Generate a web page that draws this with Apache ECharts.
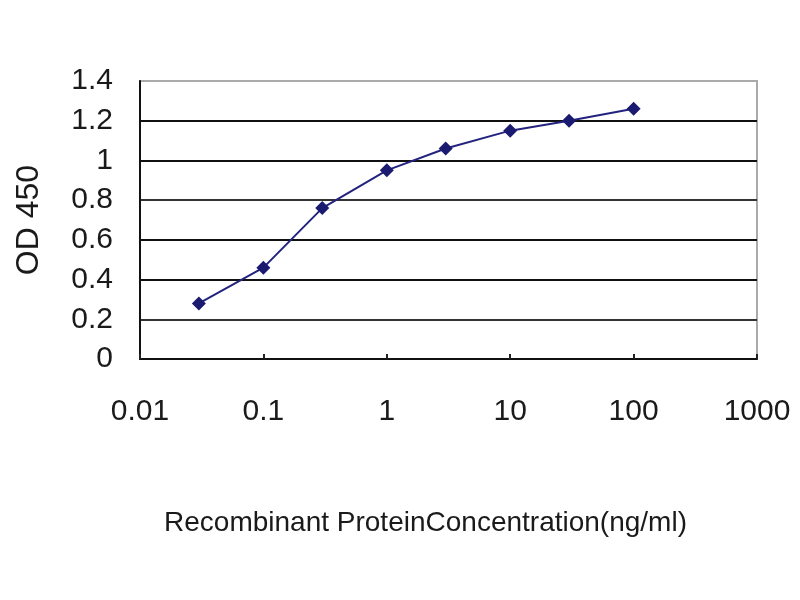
<!DOCTYPE html>
<html>
<head>
<meta charset="utf-8">
<script src="https://cdn.jsdelivr.net/npm/echarts@6/dist/echarts.min.js"></script>
<style>html,body{margin:0;padding:0;background:#fff;}#c{width:800px;height:600px;}</style>
</head>
<body>
<div id="c"></div>
<script>
var concentrations = [0.03, 0.1, 0.3, 1, 3, 10, 30, 100];
var od450 = [0.28, 0.46, 0.76, 0.95, 1.06, 1.15, 1.20, 1.26];
var xTicks = [0.01, 0.1, 1, 10, 100, 1000];
var xTickLabels = ['0.01', '0.1', '1', '10', '100', '1000'];
var yTicks = [0, 0.2, 0.4, 0.6, 0.8, 1, 1.2, 1.4];

var FONT = "'Liberation Sans', Arial, sans-serif";
var chart = echarts.init(document.getElementById('c'));
chart.setOption({
  animation: false,
  backgroundColor: '#fff',
  grid: {left: 140, right: 43, top: 81, bottom: 241, show: true, borderColor: '#aaa', borderWidth: 2},
  xAxis: {
    type: 'log', logBase: 10, min: xTicks[0], max: xTicks[xTicks.length - 1],
    name: 'Recombinant ProteinConcentration(ng/ml)',
    nameLocation: 'middle', nameGap: 150,
    nameTextStyle: {fontFamily: FONT, fontSize: 28, color: '#1a1a1a', padding: [0, 46, 0, 0]},
    axisLine: {lineStyle: {color: '#111', width: 2}},
    axisTick: {inside: true, length: 5, lineStyle: {color: '#222', width: 2}},
    axisLabel: {
      fontFamily: FONT, fontSize: 30, color: '#1a1a1a', margin: 38,
      formatter: function (v) {
        for (var i = 0; i < xTicks.length; i++) {
          if (Math.abs(Math.log10(v) - Math.log10(xTicks[i])) < 1e-6) return xTickLabels[i];
        }
        return '';
      }
    },
    splitLine: {show: false}
  },
  yAxis: {
    type: 'value', min: yTicks[0], max: yTicks[yTicks.length - 1], interval: 0.2,
    name: 'OD 450', nameLocation: 'middle', nameRotate: 90, nameGap: 95,
    nameTextStyle: {fontFamily: FONT, fontSize: 32, color: '#1a1a1a'},
    axisLine: {show: true, lineStyle: {color: '#111', width: 2}},
    axisTick: {show: false},
    axisLabel: {fontFamily: FONT, fontSize: 30, color: '#1a1a1a', margin: 27},
    splitLine: {show: true, lineStyle: {color: ['#111', '#333', '#111', '#111', '#333', '#111', '#111', '#aaa'], width: 2}}
  },
  series: [{
    type: 'line',
    data: concentrations.map(function (c, i) { return [c, od450[i]]; }),
    symbol: 'diamond', symbolSize: 14,
    lineStyle: {color: '#23237f', width: 2},
    itemStyle: {color: '#1a1a70'}
  }]
});
</script>
</body>
</html>
